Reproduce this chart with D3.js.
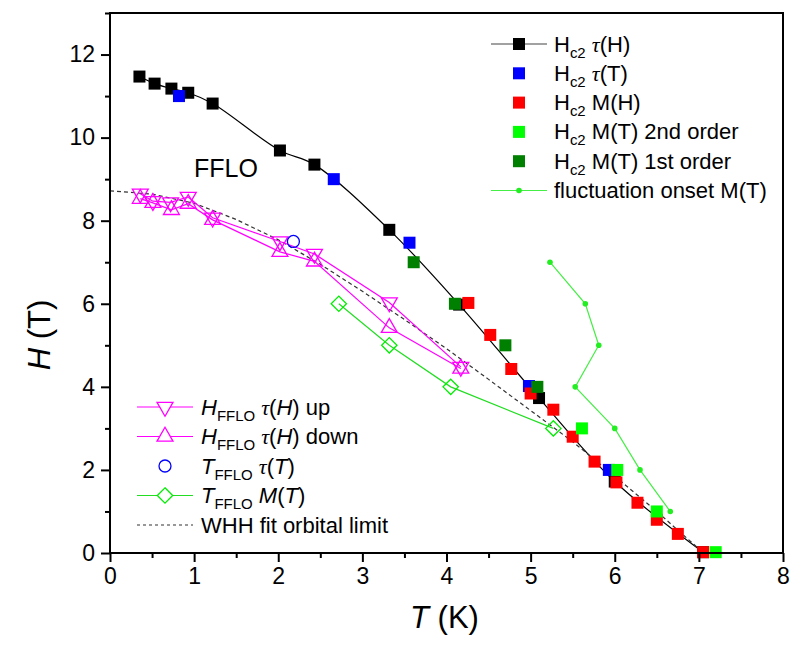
<!DOCTYPE html>
<html>
<head>
<meta charset="utf-8">
<script src="https://cdn.jsdelivr.net/npm/d3@7"></script>
<style>
  body { margin: 0; background: #fff; }
  svg { font-family: "Liberation Sans", Arial, sans-serif; }
</style>
</head>
<body>
<svg id="chart" width="792" height="655"></svg>
<script>
// Hc2 from tau(H), black squares with line
const hc2TauH_T = [0.35, 0.53, 0.73, 0.93, 1.22, 2.02, 2.43, 3.32, 4.15, 5.1, 6.0, 7.05];
const hc2TauH_H = [11.47, 11.3, 11.18, 11.08, 10.82, 9.69, 9.35, 7.78, 5.98, 3.73, 1.72, 0.02];
// Hc2 from tau(T), blue squares
const hc2TauT_T = [0.82, 2.66, 3.56, 4.98, 5.93];
const hc2TauT_H = [11.0, 9.0, 7.47, 4.02, 2.0];
// Hc2 from M(H), red squares
const hc2MH_T = [4.26, 4.52, 4.77, 5.0, 5.27, 5.5, 5.76, 6.02, 6.27, 6.5, 6.75, 7.05];
const hc2MH_H = [6.02, 5.25, 4.43, 3.84, 3.45, 2.8, 2.2, 1.7, 1.21, 0.8, 0.46, 0.02];
// Hc2 from M(T), 2nd order (light green)
const hc2MT2_T = [5.61, 6.03, 6.5, 7.2];
const hc2MT2_H = [3.0, 2.0, 1.0, 0.02];
// Hc2 from M(T), 1st order (dark green)
const hc2MT1_T = [3.61, 4.1, 4.7, 5.08];
const hc2MT1_H = [7.0, 6.0, 5.0, 4.0];
// fluctuation onset M(T)
const flucT = [5.23, 5.65, 5.81, 5.53, 6.0, 6.3, 6.66];
const flucH = [7.0, 6.0, 5.0, 4.0, 3.0, 2.0, 1.0];
// H_FFLO tau(H) up / down
const ffloUpT = [0.36, 0.51, 0.72, 0.93, 1.22, 2.02, 2.43, 3.32, 4.17];
const ffloUpH = [8.65, 8.47, 8.44, 8.57, 8.07, 7.5, 7.2, 6.03, 4.48];
const ffloDownT = [0.36, 0.51, 0.73, 0.93, 1.22, 2.02, 2.43, 3.32, 4.17];
const ffloDownH = [8.53, 8.43, 8.26, 8.41, 8.02, 7.25, 7.02, 5.42, 4.44];
// T_FFLO tau(T)
const tffloTauT_T = [2.18];
const tffloTauT_H = [7.5];
// T_FFLO M(T)
const tffloMT_T = [2.72, 3.32, 4.05, 5.27];
const tffloMT_H = [6.0, 5.0, 4.0, 3.0];
// WHH fit orbital limit
const whhT = [0, 0.5, 1, 1.5, 2, 2.5, 3, 3.5, 4, 4.5, 5, 5.5, 6, 6.5, 7, 7.05];
const whhH = [8.72, 8.64, 8.42, 8.03, 7.54, 6.95, 6.3, 5.62, 4.92, 4.18, 3.43, 2.68, 1.85, 1.0, 0.1, 0];

const xTicks = [0, 1, 2, 3, 4, 5, 6, 7, 8];
const yTicks = [0, 2, 4, 6, 8, 10, 12];

const svg = d3.select("#chart");
const pLeft = 110, pRight = 783, pTop = 13, pBottom = 553;

const x = d3.scaleLinear().domain([0, 8]).range([pLeft, pRight]);
const y = d3.scaleLinear().domain([0, 13]).range([pBottom, pTop]);

const zip = (a, b) => a.map((v, i) => [v, b[i]]);

const line = d3.line().x(d => x(d[0])).y(d => y(d[1]));
const smooth = d3.line().x(d => x(d[0])).y(d => y(d[1])).curve(d3.curveCatmullRom.alpha(0.5));

const g = svg.append("g");
const flucColor = "#44ee44";

// lines
g.append("path").attr("d", smooth(zip(hc2TauH_T, hc2TauH_H)))
  .attr("fill", "none").attr("stroke", "#000").attr("stroke-width", 1.2);
g.append("path").attr("d", line(zip(whhT, whhH)))
  .attr("fill", "none").attr("stroke", "#333").attr("stroke-width", 1.2)
  .attr("stroke-dasharray", "4,3");
g.append("path").attr("d", line(zip(ffloUpT, ffloUpH)))
  .attr("fill", "none").attr("stroke", "#ff00ff").attr("stroke-width", 1.2);
g.append("path").attr("d", line(zip(ffloDownT, ffloDownH)))
  .attr("fill", "none").attr("stroke", "#ff00ff").attr("stroke-width", 1.2);
g.append("path").attr("d", line(zip(tffloMT_T, tffloMT_H)))
  .attr("fill", "none").attr("stroke", "#22dd22").attr("stroke-width", 1.2);
g.append("path").attr("d", line(zip(flucT, flucH)))
  .attr("fill", "none").attr("stroke", flucColor).attr("stroke-width", 1.2);

// markers
const sq = 12;
function squares(T, H, color) {
  g.append("g").selectAll("rect").data(zip(T, H)).join("rect")
    .attr("x", d => x(d[0]) - sq / 2).attr("y", d => y(d[1]) - sq / 2)
    .attr("width", sq).attr("height", sq).attr("fill", color);
}
squares(hc2TauH_T, hc2TauH_H, "#000");
squares(hc2TauT_T, hc2TauT_H, "#0000ff");
squares(hc2MH_T, hc2MH_H, "#ff0000");
squares(hc2MT2_T, hc2MT2_H, "#00ff00");
squares(hc2MT1_T, hc2MT1_H, "#008000");

g.append("g").selectAll("circle").data(zip(flucT, flucH)).join("circle")
  .attr("cx", d => x(d[0])).attr("cy", d => y(d[1])).attr("r", 2.8).attr("fill", "#22ee22");

const tri = d3.symbol().type(d3.symbolTriangle).size(110);
function triangles(T, H, rot) {
  g.append("g").selectAll("path").data(zip(T, H)).join("path")
    .attr("d", tri())
    .attr("transform", d => `translate(${x(d[0])},${y(d[1])}) rotate(${rot})`)
    .attr("fill", "none").attr("stroke", "#ff00ff").attr("stroke-width", 1.3);
}
triangles(ffloUpT, ffloUpH, 180);
triangles(ffloDownT, ffloDownH, 0);

g.append("g").selectAll("circle").data(zip(tffloTauT_T, tffloTauT_H)).join("circle")
  .attr("cx", d => x(d[0])).attr("cy", d => y(d[1])).attr("r", 6)
  .attr("fill", "none").attr("stroke", "#0000ff").attr("stroke-width", 1.3);

g.append("g").selectAll("path").data(zip(tffloMT_T, tffloMT_H)).join("path")
  .attr("d", d3.symbol().type(d3.symbolDiamond2).size(150)())
  .attr("transform", d => `translate(${x(d[0])},${y(d[1])})`)
  .attr("fill", "none").attr("stroke", "#00ee00").attr("stroke-width", 1.3);

// frame
svg.append("rect").attr("x", pLeft).attr("y", pTop)
  .attr("width", pRight - pLeft).attr("height", pBottom - pTop)
  .attr("fill", "none").attr("stroke", "#000").attr("stroke-width", 2);

// axes
svg.append("g").attr("transform", `translate(0,${pBottom})`)
  .call(d3.axisBottom(x).tickValues(xTicks).tickFormat(d3.format("d")).tickSize(9).tickPadding(6));
svg.append("g").attr("transform", `translate(0,${pBottom})`)
  .call(d3.axisBottom(x).tickValues(d3.range(0.5, 8, 1)).tickFormat("").tickSize(5));
svg.append("g").attr("transform", `translate(${pLeft},0)`)
  .call(d3.axisLeft(y).tickValues(yTicks).tickFormat(d3.format("d")).tickSize(9).tickPadding(6));
svg.append("g").attr("transform", `translate(${pLeft},0)`)
  .call(d3.axisLeft(y).tickValues(d3.range(1, 14, 2)).tickFormat("").tickSize(5));

svg.selectAll(".domain").remove();
svg.selectAll(".tick line").attr("stroke", "#000").attr("stroke-width", 2);
svg.selectAll(".tick text").attr("font-size", 23).attr("fill", "#000")
  .attr("font-family", "Liberation Sans, Arial, sans-serif");

// rich text helper: segments [text, style]
function rich(sel, segs, size) {
  const t = sel.append("text").attr("font-size", size).attr("fill", "#000");
  let shift = 0;
  segs.forEach(s => {
    const [txt, st] = s;
    const ts = t.append("tspan").text(txt);
    if (st && st.includes("i")) ts.attr("font-style", "italic");
    if (st && st.includes("g")) ts.attr("font-family", "Liberation Serif, Times New Roman, serif");
    const want = st && st.includes("s") ? 6 : 0;
    if (want !== shift) { ts.attr("dy", want - shift); shift = want; }
    if (st && st.includes("s")) ts.attr("font-size", size * 0.68);
  });
  return t;
}

// axis titles
rich(svg.append("g").attr("transform", `translate(${x(4) - 2},628)`),
  [["T", "i"], [" (K)", ""]], 31).attr("text-anchor", "middle");
rich(svg.append("g").attr("transform", `translate(50,335) rotate(-90)`),
  [["H", "i"], [" (T)", ""]], 31).attr("text-anchor", "middle");

// FFLO label
svg.append("text").attr("x", 194).attr("y", 177).attr("font-size", 25).text("FFLO");

// top right legend
const leg1 = [
  { segs: [["H", ""], ["c2", "s"], [" ", ""], ["τ", "ig"], ["(H)", ""]], type: "sqline", color: "#000" },
  { segs: [["H", ""], ["c2", "s"], [" ", ""], ["τ", "ig"], ["(T)", ""]], type: "sq", color: "#0000ff" },
  { segs: [["H", ""], ["c2", "s"], [" M(H)", ""]], type: "sq", color: "#ff0000" },
  { segs: [["H", ""], ["c2", "s"], [" M(T) 2nd order", ""]], type: "sq", color: "#00ff00" },
  { segs: [["H", ""], ["c2", "s"], [" M(T) 1st order", ""]], type: "sq", color: "#008000" },
  { segs: [["fluctuation onset M(T)", ""]], type: "dotline", color: flucColor }
];
leg1.forEach((e, i) => {
  const yy = 44 + i * 29.3;
  const lg = svg.append("g");
  if (e.type !== "sq") {
    lg.append("line").attr("x1", 491).attr("x2", 547).attr("y1", yy).attr("y2", yy)
      .attr("stroke", e.color === "#000" ? "#444" : e.color).attr("stroke-width", 1.2);
  }
  if (e.type === "dotline") {
    lg.append("circle").attr("cx", 519).attr("cy", yy).attr("r", 2.8).attr("fill", "#22ee22");
  } else {
    lg.append("rect").attr("x", 519 - 6).attr("y", yy - 6).attr("width", 12).attr("height", 12).attr("fill", e.color);
  }
  rich(lg.append("g").attr("transform", `translate(554,${yy + 7.5})`), e.segs, 22);
});

// bottom left legend
const leg2 = [
  { segs: [["H", "i"], ["FFLO", "s"], [" ", ""], ["τ", "ig"], ["(", ""], ["H", "i"], [") up", ""]], type: "tdown" },
  { segs: [["H", "i"], ["FFLO", "s"], [" ", ""], ["τ", "ig"], ["(", ""], ["H", "i"], [") down", ""]], type: "tup" },
  { segs: [["T", "i"], ["FFLO", "s"], [" ", ""], ["τ", "ig"], ["(", ""], ["T", "i"], [")", ""]], type: "circle" },
  { segs: [["T", "i"], ["FFLO", "s"], [" ", ""], ["M", "i"], ["(", ""], ["T", "i"], [")", ""]], type: "diamond" },
  { segs: [["WHH fit orbital limit", ""]], type: "dash" }
];
leg2.forEach((e, i) => {
  const yy = 407 + i * 29.5;
  const lg = svg.append("g");
  const lc = e.type === "diamond" ? "#22dd22" : "#ff00ff";
  if (e.type === "tdown" || e.type === "tup" || e.type === "diamond") {
    lg.append("line").attr("x1", 137).attr("x2", 193).attr("y1", yy).attr("y2", yy)
      .attr("stroke", lc).attr("stroke-width", 1.2);
  }
  if (e.type === "dash") {
    lg.append("line").attr("x1", 137).attr("x2", 193).attr("y1", yy).attr("y2", yy)
      .attr("stroke", "#333").attr("stroke-width", 1.2).attr("stroke-dasharray", "3,3");
  }
  if (e.type === "tdown" || e.type === "tup") {
    lg.append("path").attr("d", tri())
      .attr("transform", `translate(165,${yy}) rotate(${e.type === "tdown" ? 180 : 0})`)
      .attr("fill", "#fff").attr("stroke", "#ff00ff").attr("stroke-width", 1.3);
  }
  if (e.type === "circle") {
    lg.append("circle").attr("cx", 165).attr("cy", yy).attr("r", 6)
      .attr("fill", "none").attr("stroke", "#0000ff").attr("stroke-width", 1.3);
  }
  if (e.type === "diamond") {
    lg.append("path").attr("d", d3.symbol().type(d3.symbolDiamond2).size(150)())
      .attr("transform", `translate(165,${yy})`)
      .attr("fill", "#fff").attr("stroke", "#00ee00").attr("stroke-width", 1.3);
  }
  rich(lg.append("g").attr("transform", `translate(201,${yy + 7.5})`), e.segs, 22);
});
</script>
</body>
</html>
